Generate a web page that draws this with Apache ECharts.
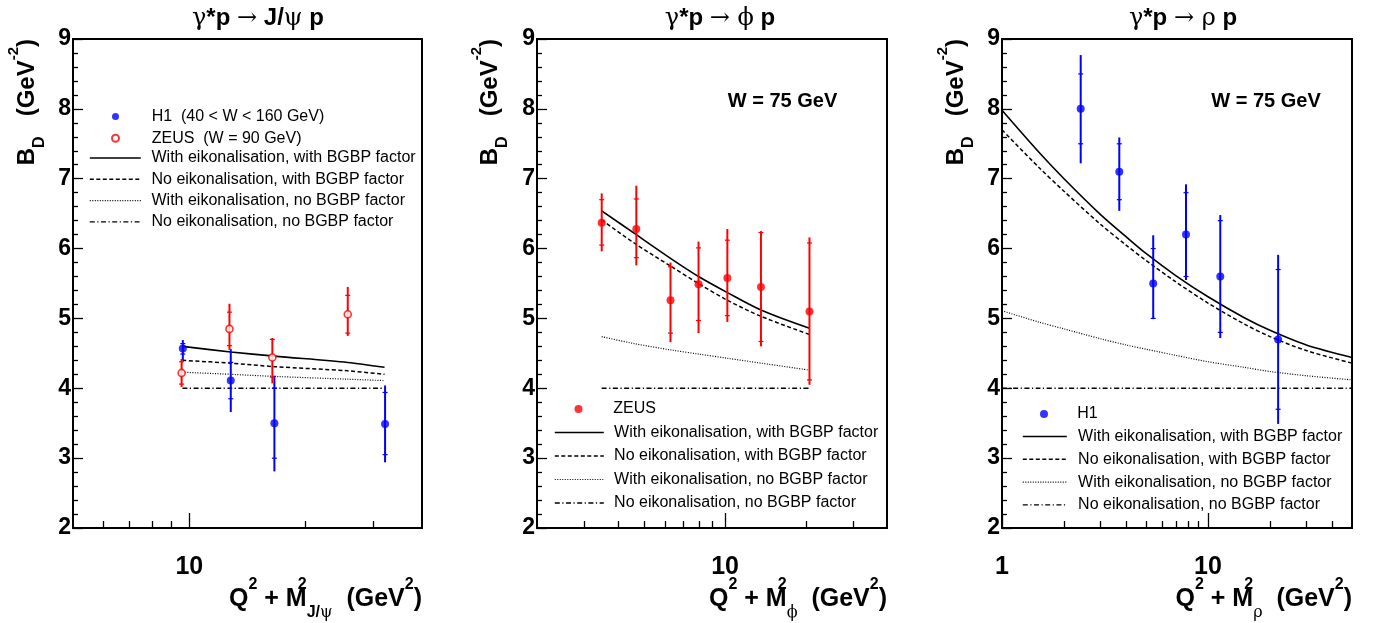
<!DOCTYPE html>
<html><head><meta charset="utf-8">
<script src="https://cdn.jsdelivr.net/npm/echarts@6/dist/echarts.min.js"></script>
<style>html,body{margin:0;padding:0;background:#fff}#c{width:1375px;height:623px}</style>
</head><body><div id="c"></div>
<script>
// ---------- data ----------
const curveNames = [
  'With eikonalisation, with BGBP factor',
  'No eikonalisation, with BGBP factor',
  'With eikonalisation, no BGBP factor',
  'No eikonalisation, no BGBP factor'
];
const yMin = 2, yMax = 9, yStep = 1;

// Panel 1: gamma* p -> J/psi p
const jpsiH1Name = 'H1  (40 < W < 160 GeV)';
const jpsiH1X = [9.62, 12.8, 16.6, 32.1];
const jpsiH1Y = [4.57, 4.11, 3.50, 3.49];
const jpsiH1TotLo = [4.40, 3.66, 2.81, 2.94];
const jpsiH1TotHi = [4.69, 4.56, 4.18, 4.04];
const jpsiH1StatLo = [4.49, 3.85, 3.00, 3.05];
const jpsiH1StatHi = [4.64, 4.37, 4.00, 3.94];
const jpsiZeusName = 'ZEUS  (W = 90 GeV)';
const jpsiZeusX = [9.55, 12.7, 16.4, 25.7];
const jpsiZeusY = [4.22, 4.85, 4.44, 5.06];
const jpsiZeusTotLo = [4.02, 4.55, 4.07, 4.75];
const jpsiZeusTotHi = [4.42, 5.21, 4.72, 5.45];
const jpsiZeusStatLo = [4.06, 4.61, 4.16, 4.79];
const jpsiZeusStatHi = [4.38, 5.09, 4.70, 5.33];
const jpsiCurveX = [9.6, 12.8, 16.6, 25.7, 32];
const jpsiEikBgbp = [4.60, 4.52, 4.46, 4.37, 4.30];
const jpsiNoEikBgbp = [4.40, 4.36, 4.31, 4.25, 4.20];
const jpsiEikNoBgbp = [4.23, 4.20, 4.17, 4.13, 4.11];
const jpsiNoEikNoBgbp = [4.00, 4.00, 4.00, 4.00, 4.00];
const jpsiXMin = 5, jpsiXMax = 40;
const jpsiMajorTicks = [10];
const jpsiMinorTicks = [6, 7, 8, 9, 20, 30];
const jpsiTickLabels = [10];

// Panel 2: gamma* p -> phi p
const phiZeusName = 'ZEUS';
const phiZeusX = [3.48, 4.68, 6.27, 7.97, 10.2, 13.6, 20.6];
const phiZeusY = [6.37, 6.28, 5.26, 5.49, 5.58, 5.45, 5.10];
const phiZeusTotLo = [5.96, 5.76, 4.66, 4.79, 4.95, 4.60, 4.05];
const phiZeusTotHi = [6.79, 6.90, 5.80, 6.10, 6.28, 6.25, 6.16];
const phiZeusStatLo = [6.05, 5.87, 4.79, 4.97, 5.04, 4.67, 4.12];
const phiZeusStatHi = [6.70, 6.71, 5.74, 6.01, 6.12, 6.23, 6.08];
const phiCurveX = [3.48, 4.59, 6.27, 7.97, 10.2, 13.6, 20.6];
const phiEikBgbp = [6.54, 6.22, 5.86, 5.60, 5.37, 5.12, 4.86];
const phiNoEikBgbp = [6.41, 6.08, 5.75, 5.50, 5.26, 5.03, 4.77];
const phiEikNoBgbp = [4.74, 4.64, 4.55, 4.49, 4.43, 4.36, 4.26];
const phiNoEikNoBgbp = [4.00, 4.00, 4.00, 4.00, 4.00, 4.00, 4.00];
const phiXMin = 2, phiXMax = 40;
const phiMajorTicks = [10];
const phiMinorTicks = [3, 4, 5, 6, 7, 8, 9, 20, 30];
const phiTickLabels = [10];

// Panel 3: gamma* p -> rho p
const rhoH1Name = 'H1';
const rhoH1X = [2.41, 3.71, 5.42, 7.82, 11.47, 21.9];
const rhoH1Y = [8.00, 7.10, 5.50, 6.20, 5.60, 4.70];
const rhoH1TotLo = [7.22, 6.54, 4.99, 5.55, 4.72, 3.49];
const rhoH1TotHi = [8.77, 7.59, 6.19, 6.92, 6.48, 5.91];
const rhoH1StatLo = [7.50, 6.70, 5.00, 5.60, 4.80, 3.70];
const rhoH1StatHi = [8.50, 7.50, 6.00, 6.80, 6.40, 5.70];
const rhoCurveX = [1, 1.5, 2, 3, 4, 5, 7, 10, 15, 20, 30, 50];
const rhoEikBgbp = [7.98, 7.39, 7.00, 6.49, 6.17, 5.93, 5.61, 5.31, 5.01, 4.83, 4.62, 4.44];
const rhoNoEikBgbp = [7.70, 7.17, 6.82, 6.35, 6.05, 5.83, 5.52, 5.22, 4.92, 4.74, 4.54, 4.36];
const rhoEikNoBgbp = [5.11, 4.95, 4.85, 4.71, 4.62, 4.56, 4.47, 4.38, 4.30, 4.24, 4.18, 4.12];
const rhoNoEikNoBgbp = [4.00, 4.00, 4.00, 4.00, 4.00, 4.00, 4.00, 4.00, 4.00, 4.00, 4.00, 4.00];
const rhoXMin = 1, rhoXMax = 50;
const rhoMajorTicks = [1, 10];
const rhoMinorTicks = [2, 3, 4, 5, 6, 7, 8, 9, 20, 30, 40];
const rhoTickLabels = [1, 10];

// ---------- styling ----------
const FONT = "'Liberation Sans', Arial, Helvetica, sans-serif";
const GREEK = "'DejaVu Serif', 'Liberation Serif', serif";
const BLUE = '#0000ff', RED = '#ff0000';
const curveStyles = [
  { type: 'solid', width: 1.6 },
  { type: [4, 2.5], width: 1.5 },
  { type: [1, 1.5], width: 1.2 },
  { type: [5, 2.5, 1.2, 2.5], width: 1.4 }
];

function pts(xs, ys) { return xs.map((v, i) => [v, ys[i]]); }
function errRows(xs, lo, hi, slo, shi) { return xs.map((v, i) => [v, lo[i], hi[i], slo[i], shi[i]]); }

function errSeries(name, gi, rows, color) {
  return {
    type: 'custom', name: name, xAxisIndex: gi * 2, yAxisIndex: gi, data: rows, z: 3, silent: true,
    encode: { x: 0, y: [1, 2] },
    renderItem: function (params, api) {
      const x = api.value(0);
      const a = api.coord([x, api.value(1)]), b = api.coord([x, api.value(2)]);
      const s1 = api.coord([x, api.value(3)]), s2 = api.coord([x, api.value(4)]);
      const st = { stroke: color, lineWidth: 2 };
      const tk = { stroke: color, lineWidth: 1.2 };
      return { type: 'group', children: [
        { type: 'line', shape: { x1: a[0], y1: a[1], x2: b[0], y2: b[1] }, style: st },
        { type: 'line', shape: { x1: s1[0] - 2.5, y1: s1[1], x2: s1[0] + 2.5, y2: s1[1] }, style: tk },
        { type: 'line', shape: { x1: s2[0] - 2.5, y1: s2[1], x2: s2[0] + 2.5, y2: s2[1] }, style: tk }
      ] };
    }
  };
}
function scatterSeries(name, gi, data, itemStyle, size) {
  return { type: 'scatter', name: name, xAxisIndex: gi * 2, yAxisIndex: gi, data: data,
    symbol: 'circle', symbolSize: size, itemStyle: itemStyle, z: 4, silent: true };
}
function curveSeries(gi, xs, ysList) {
  return ysList.map((ys, k) => ({
    type: 'line', name: curveNames[k], xAxisIndex: gi * 2, yAxisIndex: gi, data: pts(xs, ys),
    symbol: 'none', smooth: 0.3, z: 2, silent: true,
    lineStyle: { color: '#000', width: curveStyles[k].width, type: curveStyles[k].type },
    itemStyle: { color: '#000' }
  }));
}
function xAxesFor(gi, min, max, major, minor, labels) {
  return [
    { type: 'log', logBase: 10, gridIndex: gi, min: min, max: max, position: 'bottom',
      axisLine: { show: true, lineStyle: { color: '#000', width: 2 } },
      axisTick: { show: true, inside: true, length: 15, customValues: major, lineStyle: { color: '#000', width: 1.3 } },
      axisLabel: { show: true, customValues: labels, margin: 27, color: '#000', fontSize: 25, fontWeight: 'bold', fontFamily: FONT,
        formatter: v => String(Math.round(v)) },
      splitLine: { show: false }, minorTick: { show: false }, minorSplitLine: { show: false } },
    { type: 'log', logBase: 10, gridIndex: gi, min: min, max: max, position: 'bottom',
      axisLine: { show: false },
      axisTick: { show: true, inside: true, length: 7, customValues: minor, lineStyle: { color: '#000', width: 1.3 } },
      axisLabel: { show: false }, splitLine: { show: false } }
  ];
}
function yAxisFor(gi) {
  return { type: 'value', gridIndex: gi, min: yMin, max: yMax, interval: yStep, position: 'left',
    axisLine: { show: true, lineStyle: { color: '#000', width: 2 } },
    axisTick: { show: true, inside: true, length: 10, lineStyle: { color: '#000', width: 1.3 } },
    minorTick: { show: true, splitNumber: 5, length: 5, lineStyle: { color: '#000', width: 1.3 } },
    axisLabel: { margin: 2, color: '#000', fontSize: 23, fontWeight: 'bold', fontFamily: FONT },
    splitLine: { show: false } };
}
function gridFor(left, width) {
  return { left: left, top: 39, width: width, height: 489, show: true, borderColor: '#000', borderWidth: 2,
    backgroundColor: 'transparent', containLabel: false, outerBoundsMode: 'none' };
}
const legendText = pad => ({ fontSize: 16, fontFamily: FONT, color: '#000', padding: [0, 0, 0, pad] });
// the group box of a dot legend starts at the circle, so shift left by the empty part of the icon box
function dotLegend(sampleLeft, top, w, names, pad, h, gap) {
  return { show: true, orient: 'vertical', left: sampleLeft + (w - h) / 2, top: top, padding: 0, itemWidth: w, itemHeight: h,
    itemGap: gap, selectedMode: false, textStyle: legendText(pad),
    data: names.map(n => ({ name: n, icon: 'circle' })) };
}
function lineLegend(left, top, w, pad, gap) {
  return { show: true, orient: 'vertical', left: left, top: top, padding: 0, itemWidth: w, itemHeight: 14,
    itemGap: gap, selectedMode: false, textStyle: legendText(pad),
    itemStyle: { opacity: 0 }, lineStyle: { width: 'inherit' }, data: curveNames };
}

const titleRich = {
  b: { fontSize: 24, fontWeight: 'bold', fontFamily: FONT, color: '#000', lineHeight: 26 },
  g: { fontSize: 24, fontWeight: 'normal', fontFamily: GREEK, color: '#000', lineHeight: 26 }
};
const yTitleRich = {
  b: { fontSize: 24, fontWeight: 'bold', fontFamily: FONT, fill: '#000', lineHeight: 42 },
  d: { fontSize: 16, fontWeight: 'bold', fontFamily: FONT, fill: '#000', lineHeight: 10, verticalAlign: 'bottom' },
  u: { fontSize: 15, fontWeight: 'bold', fontFamily: FONT, fill: '#000', lineHeight: 28, verticalAlign: 'top' }
};
const xTitleRich = {
  b: { fontSize: 25, fontWeight: 'bold', fontFamily: FONT, fill: '#000', lineHeight: 44 },
  u: { fontSize: 16, fontWeight: 'bold', fontFamily: FONT, fill: '#000', lineHeight: 28, verticalAlign: 'top' },
  u0: { fontSize: 16, fontWeight: 'bold', fontFamily: FONT, fill: '#000', lineHeight: 28, verticalAlign: 'top', width: 0 },
  d: { fontSize: 16, fontWeight: 'bold', fontFamily: FONT, fill: '#000', lineHeight: 16, verticalAlign: 'bottom' },
  dg: { fontSize: 16, fontWeight: 'normal', fontFamily: GREEK, fill: '#000', lineHeight: 16, verticalAlign: 'bottom' }
};
function yTitle(x) {
  return { type: 'text', x: x, y: 39, rotation: Math.PI / 2, silent: true,
    style: { text: '{b|B}{d|D}{b|   (GeV}{u|-2}{b|)}', align: 'right', verticalAlign: 'middle', rich: yTitleRich, fill: '#000' } };
}
function xTitle(xRight, sub) {
  return { type: 'text', x: xRight, y: 599, silent: true,
    style: { text: '{b|Q}{u|2}{b| + M}{u0|2}' + sub + '{b|  (GeV}{u|2}{b|)}', align: 'right', verticalAlign: 'middle', rich: xTitleRich, fill: '#000' } };
}

const series = [].concat(
  curveSeries(0, jpsiCurveX, [jpsiEikBgbp, jpsiNoEikBgbp, jpsiEikNoBgbp, jpsiNoEikNoBgbp]),
  [errSeries('H1 J/psi errors', 0, errRows(jpsiH1X, jpsiH1TotLo, jpsiH1TotHi, jpsiH1StatLo, jpsiH1StatHi), BLUE),
   errSeries('ZEUS J/psi errors', 0, errRows(jpsiZeusX, jpsiZeusTotLo, jpsiZeusTotHi, jpsiZeusStatLo, jpsiZeusStatHi), RED),
   scatterSeries(jpsiH1Name, 0, pts(jpsiH1X, jpsiH1Y), { color: BLUE }, 8),
   scatterSeries(jpsiZeusName, 0, pts(jpsiZeusX, jpsiZeusY), { color: '#fff', borderColor: RED, borderWidth: 1.6 }, 7)],
  curveSeries(1, phiCurveX, [phiEikBgbp, phiNoEikBgbp, phiEikNoBgbp, phiNoEikNoBgbp]),
  [errSeries('ZEUS phi errors', 1, errRows(phiZeusX, phiZeusTotLo, phiZeusTotHi, phiZeusStatLo, phiZeusStatHi), RED),
   scatterSeries(phiZeusName, 1, pts(phiZeusX, phiZeusY), { color: RED }, 8)],
  curveSeries(2, rhoCurveX, [rhoEikBgbp, rhoNoEikBgbp, rhoEikNoBgbp, rhoNoEikNoBgbp]),
  [errSeries('H1 rho errors', 2, errRows(rhoH1X, rhoH1TotLo, rhoH1TotHi, rhoH1StatLo, rhoH1StatHi), BLUE),
   scatterSeries(rhoH1Name, 2, pts(rhoH1X, rhoH1Y), { color: BLUE }, 8)]
);

const option = {
  animation: false,
  backgroundColor: '#fff',
  textStyle: { fontFamily: FONT },
  title: [
    { text: '{g|γ}{b|*p }{g|→}{b| J/}{g|ψ}{b| p}', left: 258, top: 5.5, textAlign: 'center', padding: 0, textStyle: { rich: titleRich } },
    { text: '{g|γ}{b|*p }{g|→ ϕ}{b| p}', left: 720, top: 5.5, textAlign: 'center', padding: 0, textStyle: { rich: titleRich } },
    { text: '{g|γ}{b|*p }{g|→ ρ}{b| p}', left: 1183, top: 5.5, textAlign: 'center', padding: 0, textStyle: { rich: titleRich } },
    { text: 'W = 75 GeV', left: 782.5, top: 91.5, textAlign: 'center', padding: 0,
      textStyle: { fontSize: 20, fontWeight: 'bold', fontFamily: FONT, color: '#000' } },
    { text: 'W = 75 GeV', left: 1266, top: 91.5, textAlign: 'center', padding: 0,
      textStyle: { fontSize: 20, fontWeight: 'bold', fontFamily: FONT, color: '#000' } }
  ],
  legend: [
    dotLegend(89, 108.5, 51, [jpsiH1Name, jpsiZeusName], 5.7, 7, 5.7),
    lineLegend(89, 150, 51, 5.7, 5.3),
    dotLegend(554, 401, 49, [phiZeusName], 5.3, 8, 7.5),
    lineLegend(554, 424.5, 49, 5.3, 7.5),
    dotLegend(1022, 406, 44, [rhoH1Name], 6.3, 8, 6.3),
    lineLegend(1022, 428.5, 44, 6.3, 6.8)
  ],
  grid: [gridFor(73, 349), gridFor(537, 350), gridFor(1002, 350)],
  xAxis: [].concat(
    xAxesFor(0, jpsiXMin, jpsiXMax, jpsiMajorTicks, jpsiMinorTicks, jpsiTickLabels),
    xAxesFor(1, phiXMin, phiXMax, phiMajorTicks, phiMinorTicks, phiTickLabels),
    xAxesFor(2, rhoXMin, rhoXMax, rhoMajorTicks, rhoMinorTicks, rhoTickLabels)
  ),
  yAxis: [yAxisFor(0), yAxisFor(1), yAxisFor(2)],
  graphic: [
    yTitle(27), yTitle(490), yTitle(956),
    xTitle(422, '{d|J/}{dg|ψ}'), xTitle(887, '{dg|ϕ}'), xTitle(1352, '{dg|ρ}')
  ],
  series: series
};

const chart = echarts.init(document.getElementById('c'), null, { renderer: 'canvas' });
chart.setOption(option);
</script></body></html>
